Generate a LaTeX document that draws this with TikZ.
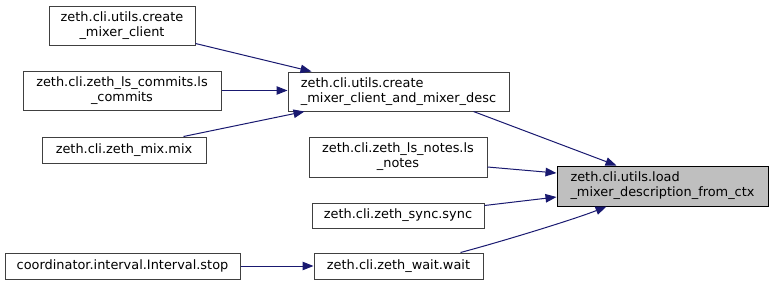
\documentclass[tikz,border=0pt]{standalone}
\usepackage{fontspec}
\setmainfont{DejaVu Sans}
\usetikzlibrary{arrows.meta,calc}
\definecolor{edgeblue}{HTML}{191970}
\definecolor{boxline}{HTML}{404040}
\definecolor{hilite}{HTML}{BFBFBF}
\begin{document}
\begin{tikzpicture}[x=1pt,y=-1pt,
  fn/.style={draw=boxline,line width=1pt,fill=white,inner sep=0pt,
    font=\fontsize{12.9}{15}\selectfont,align=center},
  fnl/.style={fn,align=left},
  call/.style={draw=edgeblue,line width=1pt,
    -{Triangle[length=11pt,width=8.5pt,fill=edgeblue]}}]
\useasboundingbox (0,0) rectangle (773,285);

% callers of the highlighted function
\node[fn,minimum width=146,minimum height=39] (A) at (122,25.5)
  {zeth.cli.utils.create\\\_mixer\_client};
\node[fn,minimum width=198,minimum height=39] (B) at (122,90.5)
  {zeth.cli.zeth\_ls\_commits.ls\\\_commits};
\node[fn,minimum width=164,minimum height=26] (C) at (124,150)
  {zeth.cli.zeth\_mix.mix};
\node[fnl,minimum width=221,minimum height=39] (D) at (398.5,91.5)
  {zeth.cli.utils.create\\\_mixer\_client\_and\_mixer\_desc};
\node[fn,minimum width=178,minimum height=40] (E) at (398,157)
  {zeth.cli.zeth\_ls\_notes.ls\\\_notes};
\node[fn,minimum width=172,minimum height=25] (F) at (398,215.5)
  {zeth.cli.zeth\_sync.sync};
\node[fn,minimum width=169,minimum height=26] (G) at (398.5,266)
  {zeth.cli.zeth\_wait.wait};
\node[fn,minimum width=235,minimum height=26] (H) at (122.5,266)
  {coordinator.interval.Interval.stop};

% the function itself
\node[fnl,fill=hilite,draw=black,minimum width=211,minimum height=40] (T) at (662.5,186)
  {zeth.cli.utils.load\\\_mixer\_description\_from\_ctx};

% call edges
\draw[call] ($(A.south east)+(0,-2)$) -- ($(D.north west)+(24,0)$);
\draw[call] (B.east) -- (B.east -| D.west);
\draw[call] ($(C.north east)+(-23,0)$) -- ($(D.south west)+(17,0)$);
\draw[call] ($(D.south east)+(-36,0)$) -- ($(T.north west)+(60,0)$);
\draw[call] ($(E.east)+(0,10)$) -- ($(T.west)+(0,-13)$);
\draw[call] ($(F.east)+(0,-10)$) -- ($(T.west)+(0,11)$);
\draw[call] ($(G.north east)+(-23,0)$) .. controls +(45,-12) and +(-30,12) .. ($(T.south west)+(50,0)$);
\draw[call] (H.east) -- (H.east -| G.west);
\end{tikzpicture}
\end{document}
